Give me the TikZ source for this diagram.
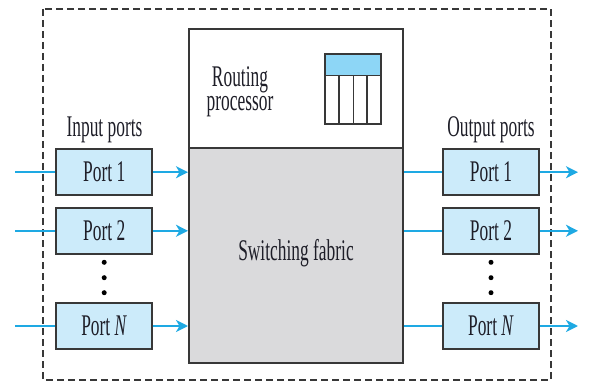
\documentclass[tikz,border=0pt]{standalone}
\usepackage{fontspec}
\setmainfont{Liberation Serif}
\usepackage{graphicx}
\usetikzlibrary{arrows.meta}
\definecolor{portblue}{HTML}{CCEBFA}
\definecolor{hdrblue}{HTML}{8DD6F6}
\definecolor{linecyan}{HTML}{1EA9E3}
\definecolor{fabricgrey}{HTML}{DADADC}
\definecolor{edgegrey}{HTML}{383838}
\definecolor{inkcol}{HTML}{1E1E28}
\newcommand{\nw}[1]{\scalebox{0.58}[1]{#1}}
\begin{document}
\begin{tikzpicture}[x=1pt,y=-1pt,
  font=\fontsize{30}{32}\selectfont,
  portbox/.style={draw=edgegrey, line width=2pt, fill=portblue, minimum width=96pt, minimum height=46pt, inner sep=0pt, text=inkcol},
  bigbox/.style={draw=edgegrey, line width=2pt, minimum width=214pt, inner sep=0pt, anchor=north west},
  lbl/.style={text=inkcol, inner sep=0pt, anchor=base},
  flow/.style={draw=linecyan, line width=2.3pt},
  flowarrow/.style={flow, -{Stealth[length=12pt,width=12pt,inset=3.5pt]}},
  vdot/.style={circle, fill=black, inner sep=0pt, minimum size=5pt}]
\useasboundingbox (0,0) rectangle (610,382);
% outer dashed frame
\draw[edgegrey, line width=1.6pt, dash pattern=on 7pt off 4pt] (43,9) rectangle (551,380);
% central boxes
\node (proc) [bigbox, fill=white, minimum height=118.7pt] at (188,28.3) {};
\node (fab) [bigbox, fill=fabricgrey, minimum height=214.7pt] at (188,147) {};
\node[lbl, align=center, font=\fontsize{30}{23.5}\selectfont] (rt) at (240,110.5) {\nw{Routing}\\\nw{processor}};
\node[lbl] (sf) at (296,260) {\nw{Switching fabric}};
% routing table icon
\draw[edgegrey, line width=1.6pt, fill=hdrblue] (325,54) rectangle (380.7,75.7);
\draw[edgegrey, line width=1.6pt, fill=white] (325,75.7) rectangle (380.7,124);
\foreach \cx in {339,353.3,366.7} \draw[edgegrey, line width=1.6pt] (\cx,75.7) -- (\cx,124);
% labels
\node[lbl] (inl) at (104.5,136.7) {\nw{Input ports}};
\node[lbl] (outl) at (491,136.7) {\nw{Output ports}};
% input ports
\node[portbox] (ip1) at (104.2,172.2) {\nw{Port 1}};
\node[portbox] (ip2) at (104.2,230.8) {\nw{Port 2}};
\node[portbox] (ipn) at (104.2,326) {\nw{Port \textit{N}}};
% output ports
\node[portbox] (op1) at (491,172.2) {\nw{Port 1}};
\node[portbox] (op2) at (491,230.8) {\nw{Port 2}};
\node[portbox] (opn) at (491,326) {\nw{Port \textit{N}}};
% dots
\foreach \dy [count=\k] in {262.3,277.7,292.7} {
  \node[vdot] (ld\k) at (104.2,\dy) {};
  \node[vdot] (rd\k) at (491,\dy) {};
}
% connectors
\foreach \p/\yy in {1/172.2,2/230.8,n/326} {
  \coordinate (src\p) at (15,\yy);
  \coordinate (dst\p) at (578,\yy);
  \draw[flow] (src\p) -- (ip\p.west);
  \draw[flowarrow] (ip\p.east) -- (ip\p.east -| fab.west);
  \draw[flow] (op\p.west -| fab.east) -- (op\p.west);
  \draw[flowarrow] (op\p.east) -- (dst\p);
}
\end{tikzpicture}
\end{document}
